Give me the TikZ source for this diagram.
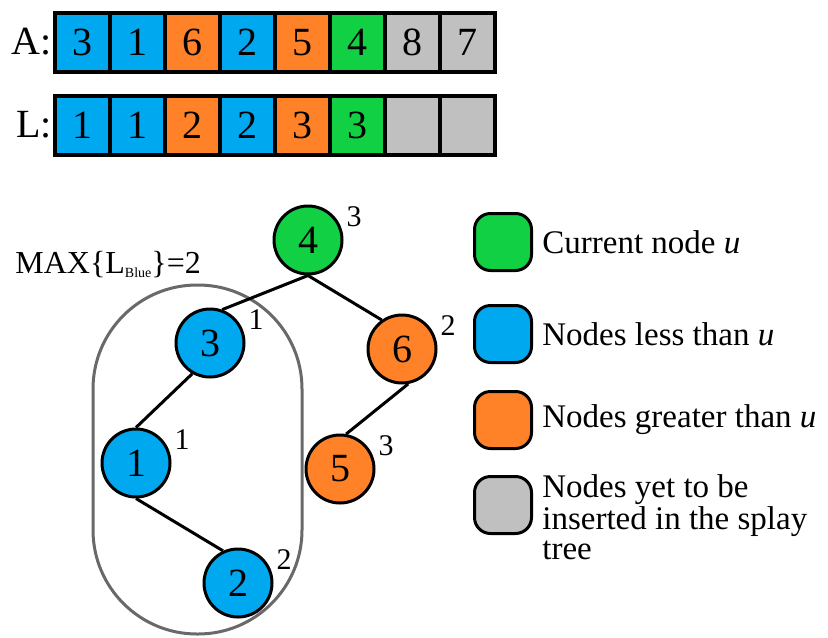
\documentclass[tikz,border=0pt]{standalone}
\usepackage{fontspec}
\setmainfont{Liberation Serif}
\usetikzlibrary{positioning,calc}
\definecolor{lessblue}{RGB}{0,168,240}
\definecolor{greaterorange}{RGB}{255,130,40}
\definecolor{currentgreen}{RGB}{18,208,68}
\definecolor{pendinggray}{RGB}{192,192,192}
\definecolor{groupgray}{RGB}{105,105,105}

\begin{document}
\begin{tikzpicture}[
    x=0.5pt, y=-0.5pt,
    cell/.style={rectangle, draw=black, line width=2pt, minimum width=27.5pt, minimum height=29.5pt, inner sep=0pt, font=\fontsize{20}{24}\selectfont},
    treenode/.style={circle, draw=black, line width=1.5pt, minimum size=34pt, inner sep=0pt, font=\fontsize{20}{24}\selectfont},
    rank/.style={inner sep=0pt, font=\fontsize{15}{18}\selectfont},
    swatch/.style={rectangle, rounded corners=8pt, draw=black, line width=1.5pt, minimum size=28.5pt},
    legendtext/.style={inner sep=0pt, align=left, font=\fontsize{16.5}{15}\selectfont},
    edge/.style={line width=1.5pt}
]
\useasboundingbox (0,0) rectangle (828,637);

% Array A
\node[anchor=east, inner sep=0pt, font=\fontsize{20}{24}\selectfont] (labelA) at (52,42) {A:};
\foreach \val/\col [count=\i] in {3/lessblue,1/lessblue,6/greaterorange,2/lessblue,5/greaterorange,4/currentgreen,8/pendinggray,7/pendinggray}
  \node[cell, fill=\col] (a\i) at ({27.5+55*\i},42.5) {\val};

% Array L
\node[anchor=east, inner sep=0pt, font=\fontsize{20}{24}\selectfont] (labelL) at (52,125) {L:};
\foreach \val/\col [count=\i] in {1/lessblue,1/lessblue,2/greaterorange,2/lessblue,3/greaterorange,3/currentgreen,{}/pendinggray,{}/pendinggray}
  \node[cell, fill=\col] (l\i) at ({27.5+55*\i},125.5) {\val};

% Group of blue nodes
\draw[groupgray, line width=1.5pt, rounded corners=52pt] (93,285) rectangle (302,634);
\node[anchor=base west, inner sep=0pt, font=\fontsize{16}{18}\selectfont] (maxlabel) at (15,273)
  {MAX\{L\raisebox{-2pt}{\fontsize{7}{7}\selectfont Blue}\}=2};

% Splay tree
\node[treenode, fill=currentgreen] (n4) at (308,240) {4};
\node[treenode, fill=lessblue] (n3) at (210,343) {3};
\node[treenode, fill=greaterorange] (n6) at (402,349) {6};
\node[treenode, fill=lessblue] (n1) at (136,463) {1};
\node[treenode, fill=greaterorange] (n5) at (340,469) {5};
\node[treenode, fill=lessblue] (n2) at (238,583) {2};

\draw[edge] (n4.south) -- (n3.70);
\draw[edge] (n4.south) -- (n6.125);
\draw[edge] (n3.240) -- (n1.north);
\draw[edge] (n1.south) -- (n2.115);
\draw[edge] (n6.280) -- (n5.80);

% L values next to the tree nodes
\foreach \n/\r in {n4/3,n3/1,n6/2,n1/1,n5/3,n2/2}
  \node[rank] (rank-\n) at ($(\n)+(46,-23)$) {\r};

% Legend
\node[swatch, fill=currentgreen] (keycur) at (503,242) {};
\node[legendtext, right=4.5pt of keycur] (txtcur) {Current node \textit{u}};
\node[swatch, fill=lessblue] (keyless) at (503,334) {};
\node[legendtext, right=4.5pt of keyless] (txtless) {Nodes less than \textit{u}};
\node[swatch, fill=greaterorange] (keygreater) at (503,420) {};
\node[legendtext, right=4.5pt of keygreater] (txtgreater) {Nodes greater than \textit{u}};
\node[swatch, fill=pendinggray] (keypend) at (503,505) {};
\node[legendtext, right=4.5pt of keypend, yshift=-6pt] (txtpend) {Nodes yet to be\\inserted in the splay\\tree};

\end{tikzpicture}
\end{document}
